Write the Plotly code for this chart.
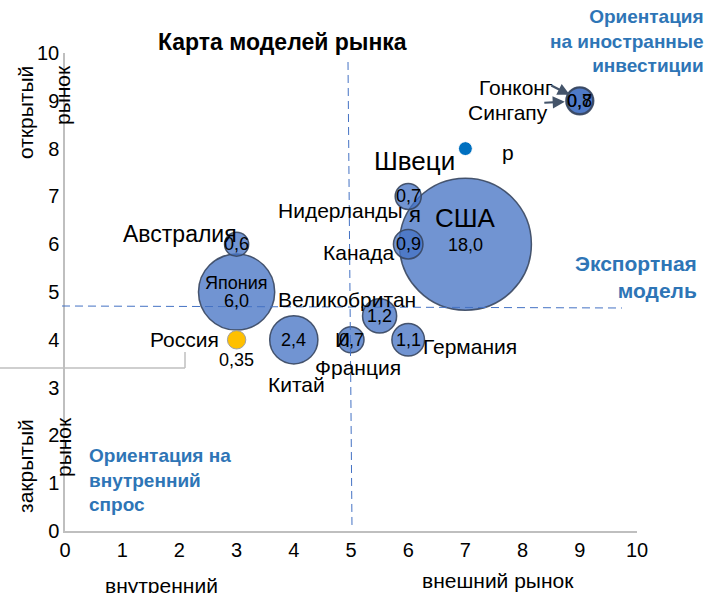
import plotly.graph_objects as go

# ---- data ----
countries = ["США", "Япония", "Китай", "Великобритания", "Германия", "Канада",
             "Нидерланды", "Австралия", "Франция", "Гонконг", "Сингапур"]
openness_x = [7, 3, 4, 5.5, 6, 6, 6, 3, 5, 9, 9]
openness_y = [6, 5, 4, 4.5, 4, 6, 7, 6, 4, 9, 9]
market_size = [18.0, 6.0, 2.4, 1.2, 1.1, 0.9, 0.7, 0.6, 0.7, 0.8, 0.7]

russia_x, russia_y, russia_size = [3], [4], [0.35]
sweden_x, sweden_y, sweden_size = [7], [8], [0.2]

x_ticks = [0, 1, 2, 3, 4, 5, 6, 7, 8, 9, 10]
y_ticks = [0, 1, 2, 3, 4, 5, 6, 7, 8, 9, 10]

FONT = "Arial, Liberation Sans, sans-serif"
BLUE_TXT = "#2E75B6"
LBL = 21
VAL = 18
max_d = 132
sizeref = 2.0 * max(market_size) / (max_d ** 2)

def fmt(v):
    s = f"{v:.2f}" if round(v * 10) != v * 10 else f"{v:.1f}"
    return s.replace(".", ",")

fig = go.Figure()
fig.add_trace(go.Scatter(
    x=openness_x, y=openness_y, mode="markers",
    marker=dict(size=market_size, sizemode="area", sizeref=sizeref, opacity=1,
                color="rgba(68,114,196,0.76)",
                line=dict(color="rgba(55,70,95,0.9)", width=1.5)),
    cliponaxis=False, showlegend=False, hoverinfo="skip"))
fig.add_trace(go.Scatter(
    x=russia_x, y=russia_y, mode="markers",
    marker=dict(size=russia_size, sizemode="area", sizeref=sizeref, opacity=1,
                color="#FFC000", line=dict(color="#a0a0a0", width=1)),
    cliponaxis=False, showlegend=False, hoverinfo="skip"))
fig.add_trace(go.Scatter(
    x=sweden_x, y=sweden_y, mode="markers",
    marker=dict(size=sweden_size, sizemode="area", sizeref=sizeref, opacity=1,
                color="#0070C0", line=dict(color="#ffffff", width=1)),
    cliponaxis=False, showlegend=False, hoverinfo="skip"))

ann = []
def lab(x, y, text, dx=0, dy=0, size=LBL):
    ann.append(dict(x=x, y=y, xref="x", yref="y", text=text, showarrow=False,
                    xshift=dx, yshift=dy,
                    font=dict(family=FONT, size=size, color="black")))

# value labels inside bubbles
val_shift = {"США": (0, -1), "Япония": (0, -9)}
for c, x, y, v in zip(countries, openness_x, openness_y, market_size):
    dx, dy = val_shift.get(c, (0, 0))
    lab(x, y, fmt(v), dx, dy, size=VAL)
lab(russia_x[0], russia_y[0], fmt(russia_size[0]), 0, -20, size=VAL)

# country name labels (offsets in px from bubble centre)
name_pos = {
    "США": ("США", 0, 26, 26),
    "Япония": ("Япония", 0, 9, 18),
    "Китай": ("Китай", 3, -45, LBL),
    "Великобритания": ("Великобритан", -33, 16, LBL),
    "Германия": ("Германия", 62, -7, LBL),
    "Канада": ("Канада", -50, -8, LBL),
    "Нидерланды": ("Нидерланды", -68, -14, LBL),
    "Австралия": ("Австралия", -57, 10, 23),
    "Франция": ("Франция", 7, -28, LBL),
}
for c, x, y in zip(countries, openness_x, openness_y):
    if c in name_pos:
        t, dx, dy, s = name_pos[c]
        lab(x, y, t, dx, dy, s)
lab(5, 4, "И", -9, 0, LBL)
lab(russia_x[0], russia_y[0], "Россия", -52, 0, LBL)
lab(sweden_x[0], sweden_y[0], "Швеци", -51, -12, 26)
lab(sweden_x[0], sweden_y[0], "я", -50, -66, 22)
lab(sweden_x[0], sweden_y[0], "р", 43, -4, LBL)
hk = countries.index("Гонконг")
lab(openness_x[hk], openness_y[hk], "Гонконг", -64, 13, LBL)
lab(openness_x[hk], openness_y[hk], "Сингапу", -72, -12, LBL)

# arrows to HK / Singapore bubble
for dxh, dyh, ax, ay in [(-10, 6, -20, -10), (-15, -1, -22, 1)]:
    ann.append(dict(x=openness_x[hk], y=openness_y[hk], xref="x", yref="y",
                    xshift=dxh, yshift=dyh, text="", showarrow=True,
                    arrowhead=2, arrowsize=1.1, arrowwidth=2.2,
                    arrowcolor="#44546A", ax=ax, ay=ay))

def ptext(x, y, text, size=LBL, color="black", xanchor="center",
          align="center", angle=0):
    ann.append(dict(x=x, y=y, xref="paper", yref="paper", text=text,
                    showarrow=False, xanchor=xanchor, yanchor="middle",
                    align=align, textangle=angle,
                    font=dict(family=FONT, size=size, color=color)))

PX = lambda px: (px - 65) / 572.0
PY = lambda py: (531 - py) / 478.0

ptext(PX(282), PY(42), "<b>Карта моделей рынка</b>", size=23)
ptext(PX(706), PY(41), "<b>Ориентация<br>на иностранные<br>инвестиции</b>",
      size=19, color=BLUE_TXT, xanchor="right", align="right")
ptext(PX(699), PY(277), "<b>Экспортная<br>модель</b>",
      size=21, color=BLUE_TXT, xanchor="right", align="right")
ptext(PX(87), PY(480), "<b>Ориентация на<br>внутренний<br>спрос</b>",
      size=19, color=BLUE_TXT, xanchor="left", align="left")
ptext(PX(25), PY(113), "открытый", angle=-90)
ptext(PX(63), PY(95), "рынок", angle=-90)
ptext(PX(25), PY(466), "закрытый", angle=-90)
ptext(PX(63), PY(447), "рынок", angle=-90)
ptext(PX(161), PY(585), "внутренний")
ptext(PX(498), PY(580), "внешний рынок")

shapes = [
    dict(type="line", xref="paper", yref="paper", x0=PX(348), y0=PY(62),
         x1=PX(352), y1=PY(528), line=dict(color="#4472C4", width=1, dash="8px,5px")),
    dict(type="line", xref="paper", yref="paper", x0=PX(62), y0=PY(306),
         x1=PX(622), y1=PY(308), line=dict(color="#4472C4", width=1, dash="8px,5px")),
    dict(type="line", xref="paper", yref="paper", x0=PX(0), y0=PY(368),
         x1=PX(185), y1=PY(368), line=dict(color="#BFBFBF", width=1.5)),
    dict(type="line", xref="paper", yref="paper", x0=PX(185), y0=PY(352),
         x1=PX(185), y1=PY(368), line=dict(color="#BFBFBF", width=1.5)),
]

fig.update_layout(
    width=709, height=593, plot_bgcolor="white", paper_bgcolor="white",
    margin=dict(l=65, r=72, t=53, b=62),
    xaxis=dict(range=[0, 10], tickvals=x_ticks, showgrid=False, zeroline=False,
               showline=True, linecolor="#BFBFBF", linewidth=1.5, ticks="",
               tickfont=dict(family=FONT, size=20, color="black")),
    yaxis=dict(range=[0, 10], tickvals=y_ticks, showgrid=False, zeroline=False,
               showline=True, linecolor="#BFBFBF", linewidth=1.5, ticks="",
               tickfont=dict(family=FONT, size=20, color="black")),
    annotations=ann, shapes=shapes, showlegend=False,
)
fig.write_html("out.html", config={"displayModeBar": False},
               post_script="document.body.style.margin='0';document.body.style.overflow='hidden';")
